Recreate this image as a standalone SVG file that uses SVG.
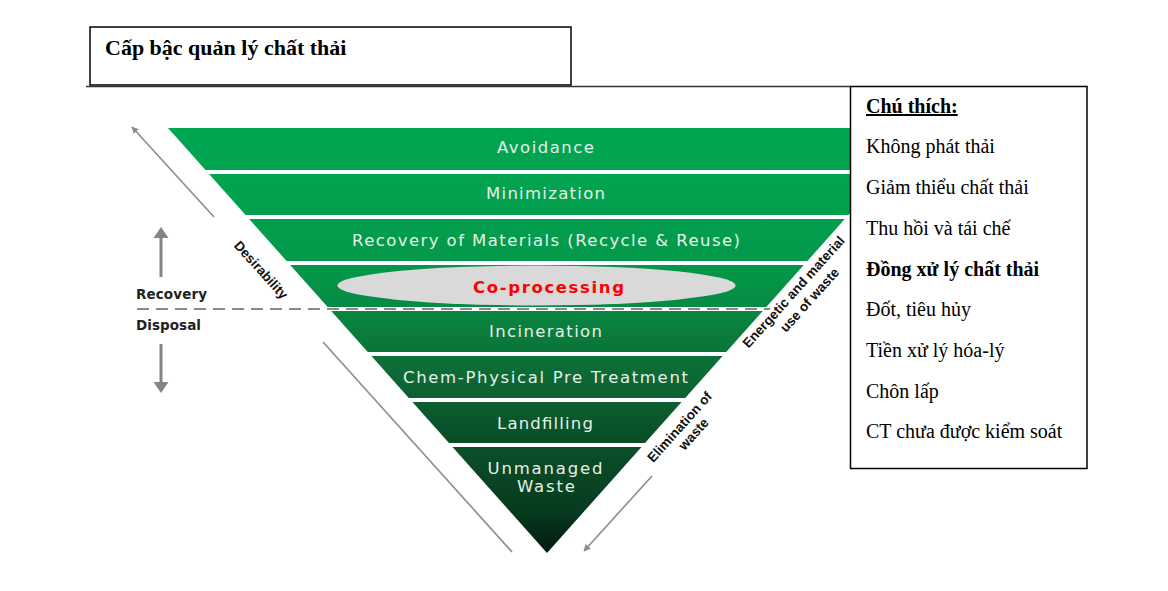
<svg xmlns="http://www.w3.org/2000/svg" width="1168" height="591" viewBox="0 0 1168 591">
<style>
.band-text{font-family:"DejaVu Sans",sans-serif;font-size:16.5px;fill:#e6f1e8;text-anchor:middle}
.side{font-family:"DejaVu Sans",sans-serif;font-weight:bold;font-size:13.5px;fill:#222}
.rot{font-family:"Liberation Sans",Arial,sans-serif;font-weight:bold;font-size:13.5px;fill:#111;text-anchor:middle}
.legend{font-family:"Liberation Serif","Times New Roman",serif;font-size:20px;fill:#000}
.gline{stroke:#8c8c8c;stroke-width:1.6;fill:none}
.varrow{stroke:#858585;stroke-width:3;fill:none}
</style>
<defs>
<linearGradient id="g1" x1="0" y1="0" x2="0" y2="1"><stop offset="0" stop-color="#00a651"/><stop offset="1" stop-color="#01a34f"/></linearGradient>
<linearGradient id="g2" x1="0" y1="0" x2="0" y2="1"><stop offset="0" stop-color="#01a450"/><stop offset="1" stop-color="#029f4d"/></linearGradient>
<linearGradient id="g3" x1="0" y1="0" x2="0" y2="1"><stop offset="0" stop-color="#029f4e"/><stop offset="1" stop-color="#04984a"/></linearGradient>
<linearGradient id="g4" x1="0" y1="0" x2="0" y2="1"><stop offset="0" stop-color="#049849"/><stop offset="1" stop-color="#078a44"/></linearGradient>
<linearGradient id="g5" x1="0" y1="0" x2="0" y2="1"><stop offset="0" stop-color="#098641"/><stop offset="1" stop-color="#0b7439"/></linearGradient>
<linearGradient id="g6" x1="0" y1="0" x2="0" y2="1"><stop offset="0" stop-color="#0c7138"/><stop offset="1" stop-color="#0c6031"/></linearGradient>
<linearGradient id="g7" x1="0" y1="0" x2="0" y2="1"><stop offset="0" stop-color="#0c5e30"/><stop offset="1" stop-color="#0a4c27"/></linearGradient>
<linearGradient id="g8" x1="0" y1="0" x2="0" y2="1"><stop offset="0" stop-color="#0b4f29"/><stop offset="0.6" stop-color="#073b1e"/><stop offset="1" stop-color="#021a0c"/></linearGradient>
<marker id="ah" viewBox="0 0 10 10" refX="9" refY="5" markerWidth="7" markerHeight="7" markerUnits="userSpaceOnUse" orient="auto"><path d="M0,0 L10,5 L0,10 z" fill="#8c8c8c"/></marker>
</defs>

<g id="title">
<rect x="90" y="27" width="481" height="58" fill="#fff" stroke="#000" stroke-width="1.5"/>
<line x1="86" y1="86.5" x2="851" y2="86.5" stroke="#333" stroke-width="1.5"/>
<text x="105" y="55" font-family="Liberation Serif,'Times New Roman',serif" font-weight="bold" font-size="22" fill="#000">Cấp bậc quản lý chất thải</text>
</g>

<g id="pyramid">
<g id="band-avoidance">
<polygon points="168,128 926,128 888.5,170 205.5,170" fill="url(#g1)"/>
<text class="band-text" x="545.5" y="153" textLength="97" lengthAdjust="spacing">Avoidance</text>
</g>
<g id="band-minimization">
<polygon points="209,174 885,174 848.4,215 245.6,215" fill="url(#g2)"/>
<text class="band-text" x="545.5" y="199" textLength="119" lengthAdjust="spacing">Minimization</text>
</g>
<g id="band-recovery">
<polygon points="249.2,219 844.8,219 807.4,261 286.6,261" fill="url(#g3)"/>
<text class="band-text" x="546" y="245.5" textLength="388" lengthAdjust="spacing">Recovery of Materials (Recycle &amp; Reuse)</text>
</g>
<g id="band-coprocessing">
<polygon points="290.2,265 803.8,265 766.3,307 327.7,307" fill="url(#g4)"/>
<ellipse cx="536.5" cy="285.5" rx="199" ry="20" fill="#d9d9d9"/>
<text x="548.5" y="293" font-family="'DejaVu Sans',sans-serif" font-weight="bold" font-size="16.5" fill="#ff0000" text-anchor="middle" textLength="151" lengthAdjust="spacing">Co-processing</text>
</g>
<g id="band-incineration">
<polygon points="331.2,311 762.8,311 726.2,352 367.8,352" fill="url(#g5)"/>
<text class="band-text" x="545.5" y="337" textLength="113" lengthAdjust="spacing">Incineration</text>
</g>
<g id="band-chem">
<polygon points="371.4,356 722.6,356 685.2,398 408.8,398" fill="url(#g6)"/>
<text class="band-text" x="545.5" y="382.5" textLength="285" lengthAdjust="spacing">Chem-Physical Pre Treatment</text>
</g>
<g id="band-landfilling">
<polygon points="412.4,402 681.6,402 645,443 449,443" fill="url(#g7)"/>
<text class="band-text" x="545" y="428.5" textLength="96" lengthAdjust="spacing">Landfilling</text>
</g>
<g id="band-unmanaged">
<polygon points="452.5,447 641.5,447 547,553" fill="url(#g8)"/>
<text class="band-text" x="545" y="474" textLength="115" lengthAdjust="spacing">Unmanaged</text>
<text class="band-text" x="546" y="492" textLength="58" lengthAdjust="spacing">Waste</text>
</g>
</g>

<g id="connectors">
<line class="gline" x1="214" y1="217" x2="132" y2="127" marker-end="url(#ah)"/>
<line class="gline" x1="323" y1="342" x2="512" y2="552"/>
<line class="gline" x1="652" y1="476" x2="584" y2="551" marker-end="url(#ah)"/>
<line x1="137" y1="309" x2="770" y2="309" stroke="#8a8a8a" stroke-width="2" stroke-dasharray="12 7"/>
<line class="varrow" x1="161" y1="277" x2="161" y2="236"/>
<polygon points="161,227 153.5,238 168.5,238" fill="#858585"/>
<line class="varrow" x1="161" y1="344" x2="161" y2="384"/>
<polygon points="161,393 153.5,382 168.5,382" fill="#858585"/>
</g>

<g id="labels">
<text class="side" x="136" y="299" textLength="71" lengthAdjust="spacing">Recovery</text>
<text class="side" x="136" y="330" textLength="65" lengthAdjust="spacing">Disposal</text>
<text class="rot" transform="translate(261,270) rotate(48)" y="4.5">Desirability</text>
<text class="rot" transform="translate(797,295) rotate(-48)">Energetic and material</text>
<text class="rot" transform="translate(813,303) rotate(-48)" y="0">use of waste</text>
<text class="rot" transform="translate(683,430) rotate(-48)">Elimination of</text>
<text class="rot" transform="translate(697,437) rotate(-48)">waste</text>
</g>

<g id="legend">
<rect x="850.5" y="86.5" width="236.5" height="382" fill="#fff" stroke="#000" stroke-width="1.5"/>
<text class="legend" x="866" y="113" font-weight="bold" text-decoration="underline">Chú thích:</text>
<text class="legend" x="866" y="153">Không phát thải</text>
<text class="legend" x="866" y="194">Giảm thiểu chất thải</text>
<text class="legend" x="866" y="235">Thu hồi và tái chế</text>
<text class="legend" x="866" y="276" font-weight="bold">Đồng xử lý chất thải</text>
<text class="legend" x="866" y="316">Đốt, tiêu hủy</text>
<text class="legend" x="866" y="357">Tiền xử lý hóa-lý</text>
<text class="legend" x="866" y="398">Chôn lấp</text>
<text class="legend" x="866" y="438">CT chưa được kiểm soát</text>
</g>
</svg>
